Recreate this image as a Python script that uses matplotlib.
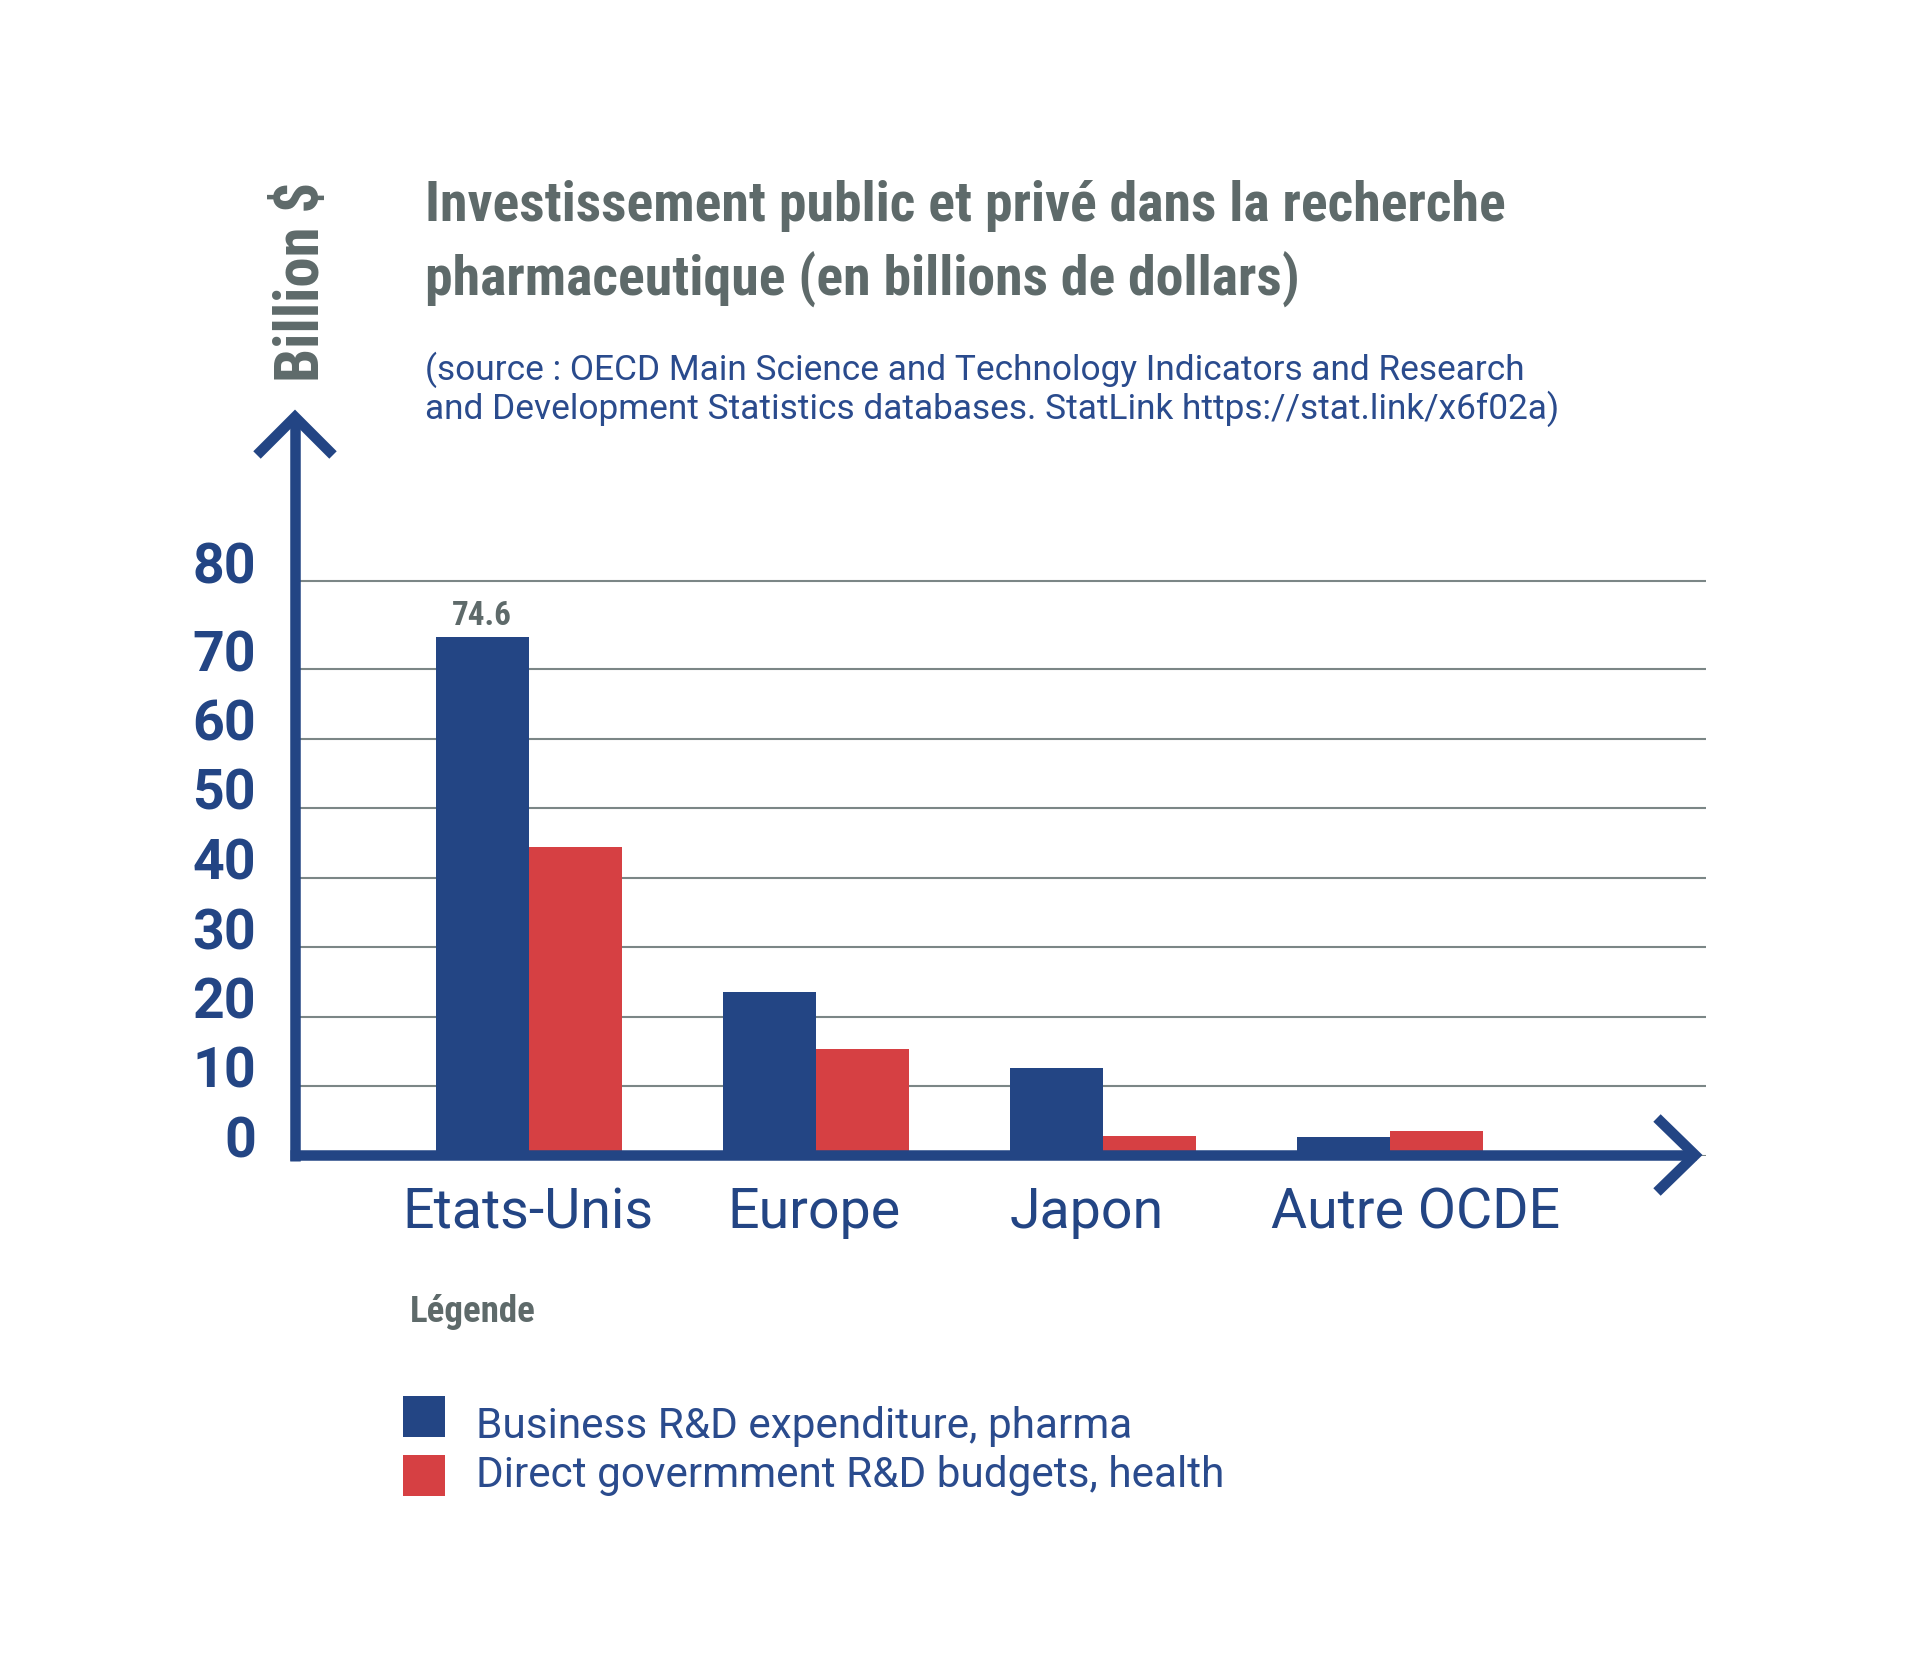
import numpy as np
import matplotlib
matplotlib.use('Agg')
import matplotlib.pyplot as plt
from matplotlib import font_manager as fm
from matplotlib.lines import Line2D
from matplotlib.patches import Rectangle
from matplotlib.transforms import ScaledTranslation

# data
categories = ['Etats-Unis', 'Europe', 'Japon', 'Autre OCDE']
business = [74.6, 23.5, 12.6, 2.7]     # Business R&D expenditure, pharma
government = [44.4, 15.3, 2.8, 3.5]    # Direct government R&D budgets, health
series_names = ['Business R&D expenditure, pharma',
                'Direct govermment R&D budgets, health']
grid_pos = [0, 10, 20, 30, 40, 50, 60, 70, 82.6]
tick_labels = ['0', '10', '20', '30', '40', '50', '60', '70', '80']

title_lines = ['Investissement public et privé dans la recherche',
               'pharmaceutique (en billions de dollars)']
source_lines = ['(source : OECD Main Science and Technology Indicators and Research',
                'and Development Statistics databases. StatLink https://stat.link/x6f02a)']

# layout: horizontal nudge of the category labels (pixels)
label_shift = [-1, -2, -16, 26]

BLUE = '#234584'
RED = '#d64043'
GRAY = '#5e6a6a'
TXTBLUE = '#2a4b8d'
GRID = '#7b8686'

W, H = 1920, 1653

# condensed bold face for the grey headings
_ttf = fm.fontManager.ttflist
def narrow_font():
    for name in ['Roboto Condensed', 'Liberation Sans Narrow', 'Noto Sans Condensed',
                 'Open Sans Condensed', 'Noto Sans SemiCondensed']:
        if any(f.name == name for f in _ttf):
            return {'family': name}
    for name in ['Noto Sans', 'DejaVu Sans', 'Open Sans']:
        if any(f.name == name and f.stretch == 'condensed' for f in _ttf):
            return {'family': name, 'stretch': 'condensed'}
    return {'family': 'DejaVu Sans'}
NARROW = narrow_font()

def fx(x): return x / W
def fy(y): return 1 - y / H

fig = plt.figure(figsize=(W / 100, H / 100), dpi=100)
fig.patch.set_facecolor('white')

ax = fig.add_axes([fx(295), fy(1155.5), (1706 - 295) / W, (1155.5 - 404.9) / H])
ax.set_facecolor('none')
for s in ax.spines.values():
    s.set_visible(False)

x = np.arange(len(categories))
w = 0.325
ax.bar(x - w / 2, business, w, color=BLUE, zorder=3)
ax.bar(x + w / 2, government, w, color=RED, zorder=3)

ax.set_xlim(-0.815, 4.101)
ax.set_ylim(0, 108)

ax.set_yticks(grid_pos)
ax.set_yticklabels(tick_labels, fontsize=40, fontweight='bold', family='Roboto', color=BLUE)
ax.tick_params(axis='y', length=0, pad=28)
off = ScaledTranslation(0, -2 / 100, fig.dpi_scale_trans)
for lab in ax.get_yticklabels():
    lab.set_va('baseline')
    lab.set_transform(lab.get_transform() + off)
ax.yaxis.grid(True, color=GRID, lw=1.5)
ax.set_axisbelow(True)

ax.set_xticks(x)
ax.set_xticklabels(categories, fontsize=40, family='Roboto', color=BLUE)
ax.tick_params(axis='x', length=0, pad=22)
for lab, dx in zip(ax.get_xticklabels(), label_shift):
    lab.set_transform(lab.get_transform() + ScaledTranslation(dx / 100, 0, fig.dpi_scale_trans))

# value label on the tallest bar
lab746 = ax.annotate(f'{business[0]}', xy=(x[0] - w / 2, business[0]), xytext=(0, 9),
                     textcoords='offset points', ha='center', va='baseline',
                     color=GRAY, fontweight='bold', fontsize=20, **NARROW)

# axis arrows
lw_ax = 10.5 * 0.72
def fline(xs, ys):
    fig.add_artist(Line2D([fx(v) for v in xs], [fy(v) for v in ys], transform=fig.transFigure,
                          color=BLUE, lw=lw_ax, solid_capstyle='butt',
                          solid_joinstyle='miter', zorder=5))
fline([295, 295], [1161, 417])
fline([257, 295, 333], [455, 417, 455])
fline([290, 1696], [1155, 1155])
fline([1657, 1695, 1657], [1118, 1155, 1192])

# texts
t1 = fig.text(fx(425), fy(221), title_lines[0], color=GRAY, fontweight='bold',
              fontsize=40, va='baseline', ha='left', **NARROW)
t2 = fig.text(fx(425), fy(296), title_lines[1], color=GRAY, fontweight='bold',
              fontsize=40, va='baseline', ha='left', **NARROW)
s1 = fig.text(fx(425), fy(379.5), source_lines[0], color=TXTBLUE, fontweight='normal',
              family='Roboto', fontsize=27, va='baseline', ha='left')
s2 = fig.text(fx(425), fy(419), source_lines[1], color=TXTBLUE, fontweight='normal',
              family='Roboto', fontsize=27, va='baseline', ha='left')
yl = fig.text(fx(302), fy(281.7), 'Billion $', rotation=90, color=GRAY, fontweight='bold',
              fontsize=40, va='center', ha='center', **NARROW)
leg_t = fig.text(fx(410), fy(1322), 'Légende', color=GRAY, fontweight='bold',
                 fontsize=20, va='baseline', ha='left', **NARROW)

l1 = fig.text(fx(476), fy(1438), series_names[0], color=TXTBLUE, fontweight='normal',
              family='Roboto', fontsize=28, va='baseline', ha='left')
l2 = fig.text(fx(476), fy(1486.7), series_names[1], color=TXTBLUE, fontweight='normal',
              family='Roboto', fontsize=28, va='baseline', ha='left')
for yy, c in [(1396, BLUE), (1455, RED)]:
    fig.add_artist(Rectangle((fx(403), fy(yy + 41)), 42 / W, 41 / H,
                             transform=fig.transFigure, color=c, lw=0))

# size the texts to the measured widths of the reference
fig.canvas.draw()
r = fig.canvas.get_renderer()
def fit(t, target, others=()):
    bb = t.get_window_extent(r)
    size = t.get_fontsize() * target / max(bb.width, bb.height)
    t.set_fontsize(size)
    for o in others:
        o.set_fontsize(size)
fit(t1, 1080, [t2])
fit(s1, 1100, [s2])
fit(yl, 200)
fit(leg_t, 125)
fit(lab746, 60)
fit(l1, 655, [l2])

fig.savefig('out.png', dpi=100)
